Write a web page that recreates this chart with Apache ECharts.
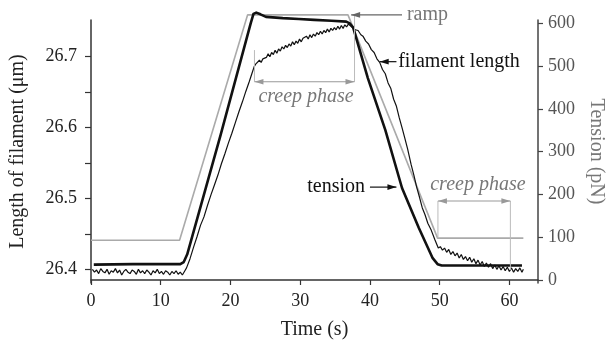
<!DOCTYPE html>
<html><head><meta charset="utf-8">
<script src="https://cdn.jsdelivr.net/npm/echarts@6/dist/echarts.min.js"></script>
<style>html,body{margin:0;padding:0;background:#fff}#c{width:614px;height:347px}</style>
</head><body><div id="c"></div>
<script>
// ---- axis ticks ----
const timeTicks = [0, 10, 20, 30, 40, 50, 60];
const lengthTicks = [26.4, 26.5, 26.6, 26.7];
const lengthMinorTicks = [26.4, 26.45, 26.5, 26.55, 26.6, 26.65, 26.7];
const tensionTicks = [0, 100, 200, 300, 400, 500, 600];

// ---- ramp (grey, length axis) ----
const rampTime = [0, 12.7, 22.45, 36.85, 49.7, 62.0];
const rampLength = [26.441, 26.441, 26.759, 26.759, 26.444, 26.444];

// ---- tension (thick, pN axis) ----
const tensionTime = [0.4, 6, 12.8, 13.3, 13.8, 18.6, 22.9, 23.3, 23.7, 24.3, 25.1, 27.5, 29.8, 32.0, 34.5, 36.6, 37.1, 37.6, 39.7, 42.2, 44.6, 47.0, 49.0, 49.7, 50.3, 55.0, 61.8];
const tensionValue = [36, 37, 37, 42, 60, 340, 600, 622, 625, 621, 615, 612, 610, 608, 606, 604, 600, 590, 472, 351, 215, 122, 51, 37, 34, 34, 34];

// ---- filament length (noisy, µm axis) ----
const lengthTime = [
  0.2, 0.5, 0.8, 1.1, 1.4, 1.7, 2.0, 2.3, 2.6, 2.9, 3.2, 3.5, 3.8, 4.1, 4.4, 4.7, 5.0, 5.3, 5.6, 5.9, 6.2, 6.5, 6.8, 7.1, 7.4, 7.7, 8.0, 8.3, 8.6, 8.9, 9.2, 9.5, 9.8, 10.1, 10.4, 10.7, 11.0, 11.3, 11.6, 11.9, 12.2, 12.5, 12.8, 13.1, 13.4,
  13.7, 14.2, 14.7, 15.2, 15.7, 16.2, 16.7, 17.2, 17.7, 18.2, 18.7, 19.2, 19.7, 20.2, 20.7, 21.2, 21.7, 22.2, 22.7, 23.1, 23.4,
  23.65, 23.9, 24.15, 24.4, 24.65, 24.9, 25.15, 25.4, 25.65, 25.9, 26.15, 26.4, 26.65, 26.9, 27.15, 27.4, 27.65, 27.9, 28.15, 28.4, 28.65, 28.9, 29.15, 29.4, 29.65, 29.9,
  30.15, 30.4, 30.65, 30.9, 31.15, 31.4, 31.65, 31.9, 32.15, 32.4, 32.65, 32.9, 33.15, 33.4, 33.65, 33.9, 34.15, 34.4, 34.65, 34.9, 35.15, 35.4, 35.65, 35.9, 36.15, 36.4, 36.65, 36.9, 37.1,
  37.5, 37.9, 38.3, 38.7, 39.0, 39.4, 39.8, 40.2, 40.6, 41.0, 41.4, 41.8, 42.2, 42.6, 43.0, 43.4, 43.8, 44.2, 44.6, 45.0, 45.4, 45.9, 46.3, 46.7, 47.1, 47.5, 47.9, 48.3, 48.8, 49.3, 49.8,
  50.1, 50.4, 50.7, 51.0, 51.3, 51.6, 51.9, 52.2, 52.5, 52.8, 53.1, 53.4, 53.7, 54.0, 54.3, 54.6, 54.9, 55.2, 55.5, 55.8, 56.1, 56.4, 56.7, 57.0, 57.3, 57.6, 57.9, 58.2, 58.5, 58.8, 59.1, 59.4, 59.7, 60.0, 60.3, 60.6, 60.9, 61.2, 61.5, 61.8, 62.0
];
const lengthValue = [
  26.400, 26.396, 26.399, 26.394, 26.401, 26.397, 26.395, 26.400, 26.393, 26.398, 26.396, 26.401, 26.395, 26.399, 26.392, 26.397, 26.400, 26.396, 26.394, 26.399, 26.397, 26.393, 26.400, 26.395, 26.398, 26.394, 26.399, 26.396, 26.392, 26.398, 26.395, 26.400, 26.394, 26.397, 26.393, 26.398, 26.396, 26.392, 26.397, 26.394, 26.398, 26.393, 26.396, 26.392, 26.397,
  26.402, 26.415, 26.431, 26.446, 26.462, 26.474, 26.490, 26.505, 26.519, 26.533, 26.549, 26.563, 26.578, 26.592, 26.607, 26.622, 26.636, 26.651, 26.665, 26.677, 26.686,
  26.690, 26.688, 26.695, 26.692, 26.697, 26.696, 26.699, 26.704, 26.700, 26.706, 26.703, 26.709, 26.705, 26.711, 26.708, 26.714, 26.711, 26.716, 26.713, 26.718, 26.715, 26.721, 26.717, 26.722, 26.719, 26.725,
  26.721, 26.726, 26.724, 26.729, 26.725, 26.731, 26.727, 26.732, 26.729, 26.734, 26.731, 26.736, 26.732, 26.737, 26.734, 26.739, 26.735, 26.740, 26.737, 26.741, 26.738, 26.743, 26.739, 26.744, 26.740, 26.745, 26.742, 26.746, 26.744,
  26.741, 26.738, 26.737, 26.731, 26.729, 26.722, 26.718, 26.710, 26.706, 26.697, 26.692, 26.682, 26.676, 26.663, 26.655, 26.640, 26.630, 26.614, 26.600, 26.585, 26.570, 26.548, 26.533, 26.516, 26.502, 26.487, 26.477, 26.465, 26.455, 26.442, 26.430,
  26.432, 26.427, 26.430, 26.424, 26.428, 26.421, 26.425, 26.419, 26.423, 26.416, 26.421, 26.414, 26.418, 26.412, 26.417, 26.410, 26.415, 26.408, 26.413, 26.406, 26.411, 26.404, 26.409, 26.403, 26.408, 26.401, 26.406, 26.400, 26.405, 26.399, 26.404, 26.398, 26.403, 26.397, 26.402, 26.396, 26.401, 26.397, 26.402, 26.396, 26.400
];

const FONT = '"Liberation Serif","Times New Roman",serif';
const zip = (a, b) => a.map((x, i) => [x, b[i]]);

const chart = echarts.init(document.getElementById('c'), null, {renderer: 'canvas'});

chart.setOption({
  animation: false,
  backgroundColor: '#fff',
  grid: {left: 89, right: 71, top: 20, bottom: 64, containLabel: false},
  xAxis: {
    type: 'value', min: 0, max: 64.1,
    name: 'Time (s)', nameLocation: 'middle', nameGap: 37,
    nameTextStyle: {fontFamily: FONT, fontSize: 20, color: '#222'},
    axisLine: {lineStyle: {color: '#333', width: 1.5}},
    axisTick: {show: true, length: 5, inside: false, customValues: timeTicks, lineStyle: {color: '#333', width: 1.2}},
    axisLabel: {customValues: timeTicks, margin: 9, fontFamily: FONT, fontSize: 18, color: '#222'},
    splitLine: {show: false}
  },
  yAxis: [{
    type: 'value', min: 26.3807, max: 26.7518, position: 'left',
    name: 'Length of filament (\u03bcm)', nameLocation: 'middle', nameGap: 63,
    nameTextStyle: {fontFamily: FONT, fontSize: 20, color: '#222'},
    axisLine: {show: true, lineStyle: {color: '#333', width: 1.5}},
    axisTick: {show: true, length: 6, customValues: lengthMinorTicks, lineStyle: {color: '#333', width: 1.2}},
    axisLabel: {customValues: lengthTicks, margin: 14, fontFamily: FONT, fontSize: 18, color: '#222', formatter: v => v.toFixed(1)},
    splitLine: {show: false}
  }, {
    type: 'value', min: -7.01, max: 607.7, position: 'right',
    name: 'Tension (pN)', nameLocation: 'middle', nameGap: 48, nameRotate: -90,
    nameTextStyle: {fontFamily: FONT, fontSize: 20, color: '#777'},
    axisLine: {show: true, lineStyle: {color: '#444', width: 1.5}},
    axisTick: {show: true, length: 5, customValues: tensionTicks, lineStyle: {color: '#444', width: 1.2}},
    axisLabel: {customValues: tensionTicks, margin: 10, fontFamily: FONT, fontSize: 18, color: '#555'},
    splitLine: {show: false}
  }],
  series: [{
    name: 'ramp', type: 'line', xAxisIndex: 0, yAxisIndex: 0, clip: false,
    data: zip(rampTime, rampLength), showSymbol: false, symbol: 'none',
    lineStyle: {color: '#aaa', width: 1.6}, z: 2
  }, {
    name: 'filament length', type: 'line', xAxisIndex: 0, yAxisIndex: 0, clip: false,
    data: zip(lengthTime, lengthValue), showSymbol: false, symbol: 'none',
    lineStyle: {color: '#111', width: 1.2}, z: 3
  }, {
    name: 'tension', type: 'line', xAxisIndex: 0, yAxisIndex: 1, clip: false,
    data: zip(tensionTime, tensionValue), showSymbol: false, symbol: 'none',
    lineStyle: {color: '#111', width: 2.6, join: 'round'}, z: 4
  }]
});

// ---- annotations in data coordinates (time s, length µm) ----
const annotations = {
  rampArrow: {from: [44.6, 26.759], to: [37.3, 26.759], color: '#666'},
  rampText: {at: [45.3, 26.759], text: 'ramp', color: '#777', align: 'left', italic: false},
  lengthArrow: {from: [43.8, 26.693], to: [41.4, 26.693], color: '#111'},
  lengthText: {at: [44.05, 26.693], text: 'filament length', color: '#111', align: 'left', italic: false},
  tensionArrow: {from: [40.0, 26.516], to: [43.8, 26.516], color: '#111'},
  tensionText: {at: [39.3, 26.516], text: 'tension', color: '#111', align: 'right', italic: false},
  creep1: {y: 26.6647, x1: 23.44, x2: 37.79, leftTop: 26.7094, rightTop: 26.7588, leftBottom: 26.6647, rightBottom: 26.6647},
  creep1Text: {at: [30.84, 26.6435], text: 'creep phase', color: '#777', align: 'center', italic: true},
  creep2: {y: 26.4964, x1: 49.75, x2: 60.14, leftTop: 26.4964, rightTop: 26.4964, leftBottom: 26.4442, rightBottom: 26.399},
  creep2Text: {at: [55.48, 26.519], text: 'creep phase', color: '#777', align: 'center', italic: true}
};

function P(p) { return chart.convertToPixel({xAxisIndex: 0, yAxisIndex: 0}, p); }
function arrowHead(tip, tail, color, len, hw) {
  const dx = tip[0] - tail[0], dy = tip[1] - tail[1];
  const d = Math.hypot(dx, dy) || 1;
  const ux = dx / d, uy = dy / d;
  const bx = tip[0] - ux * len, by = tip[1] - uy * len;
  return {type: 'polygon', silent: true, z: 10,
    shape: {points: [tip, [bx - uy * hw, by + ux * hw], [bx + uy * hw, by - ux * hw]]},
    style: {fill: color}};
}
function arrow(a, double) {
  const t = P(a.to), f = P(a.from);
  const els = [{type: 'line', silent: true, z: 10, shape: {x1: f[0], y1: f[1], x2: t[0], y2: t[1]}, style: {stroke: a.color, lineWidth: 1.2}}];
  els.push(arrowHead(t, f, a.color, 9, 2.8));
  if (double) els.push(arrowHead(f, t, a.color, 9, 2.8));
  return els;
}
function text(a) {
  const p = P(a.at);
  return {type: 'text', silent: true, z: 10, x: p[0], y: p[1],
    style: {text: a.text, fill: a.color, font: (a.italic ? 'italic ' : '') + '20px ' + FONT,
      align: a.align, textAlign: a.align, verticalAlign: 'middle', textVerticalAlign: 'middle'}};
}
function bracket(b) {
  const col = '#999';
  const els = [];
  els.push(...arrow({from: [b.x1, b.y], to: [b.x2, b.y], color: col}, true));
  const lt = P([b.x1, b.leftTop]), lb = P([b.x1, b.leftBottom]);
  const rt = P([b.x2, b.rightTop]), rb = P([b.x2, b.rightBottom]);
  els.push({type: 'line', silent: true, z: 9, shape: {x1: lt[0], y1: lt[1], x2: lb[0], y2: lb[1]}, style: {stroke: '#bbb', lineWidth: 1}});
  els.push({type: 'line', silent: true, z: 9, shape: {x1: rt[0], y1: rt[1], x2: rb[0], y2: rb[1]}, style: {stroke: '#bbb', lineWidth: 1}});
  return els;
}

const g = [];
g.push(...arrow(annotations.rampArrow));
g.push(text(annotations.rampText));
g.push(...arrow(annotations.lengthArrow));
g.push(text(annotations.lengthText));
g.push(...arrow(annotations.tensionArrow));
g.push(text(annotations.tensionText));
g.push(...bracket(annotations.creep1));
g.push(text(annotations.creep1Text));
g.push(...bracket(annotations.creep2));
g.push(text(annotations.creep2Text));
chart.setOption({graphic: {elements: g}});
</script>
</body></html>
